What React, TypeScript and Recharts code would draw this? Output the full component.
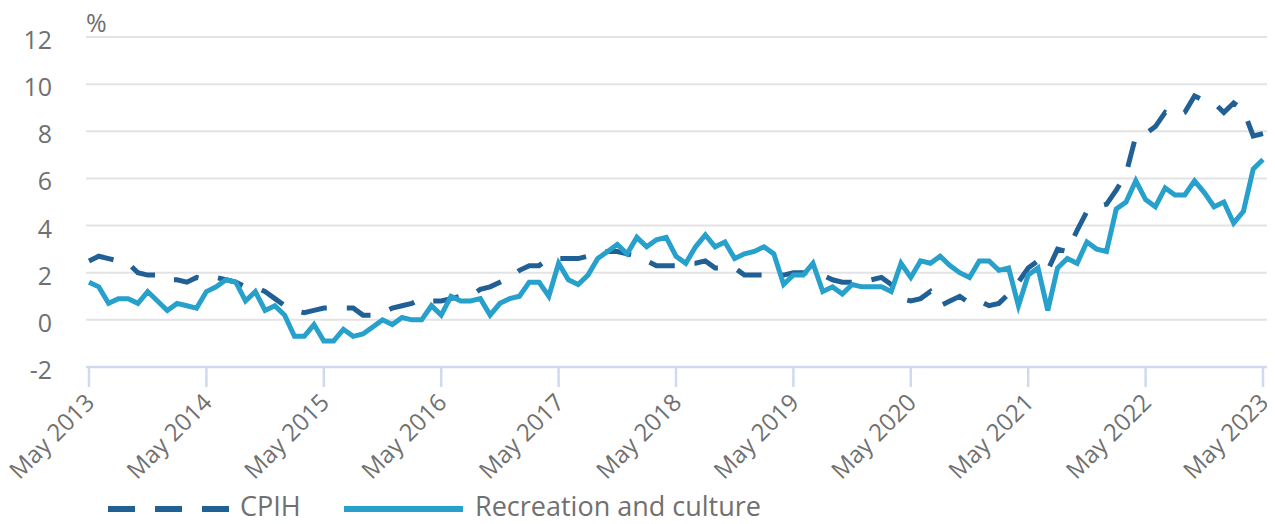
import {
  LineChart,
  Line,
  XAxis,
  YAxis,
  CartesianGrid,
} from "recharts";

const FONT = "'Open Sans', 'Noto Sans', sans-serif";
const TEXT = "#707070";
const CPIH_COLOR = "#206095";
const REC_COLOR = "#27a0cc";
const AXIS_COLOR = "#cfdaee";

// monthly, May 2013 .. May 2023 (index 0..120)
const TICK_LABELS = [
  "May 2013",
  "May 2014",
  "May 2015",
  "May 2016",
  "May 2017",
  "May 2018",
  "May 2019",
  "May 2020",
  "May 2021",
  "May 2022",
  "May 2023",
];

const CPIH = [
  2.5, 2.7, 2.6, 2.5, 2.4, 2.0, 1.9, 1.9, 1.7, 1.7, 1.6, 1.8,
  1.7, 1.8, 1.7, 1.6, 1.4, 1.4, 1.2, 0.9, 0.6, 0.4, 0.3, 0.4,
  0.5, 0.5, 0.5, 0.5, 0.2, 0.2, 0.3, 0.5, 0.6, 0.7, 0.9, 0.8,
  0.8, 0.9, 1.0, 1.0, 1.3, 1.4, 1.6, 1.8, 2.1, 2.3, 2.3, 2.6,
  2.6, 2.6, 2.6, 2.7, 2.8, 2.9, 2.9, 2.8, 2.7, 2.5, 2.3, 2.3,
  2.3, 2.4, 2.4, 2.5, 2.2, 2.2, 2.2, 1.9, 1.9, 1.9, 1.9, 1.9,
  2.0, 2.0, 2.0, 1.9, 1.7, 1.6, 1.6, 1.6, 1.7, 1.8, 1.5, 0.9,
  0.8, 0.9, 1.2, 0.6, 0.8, 1.0, 0.7, 0.8, 0.6, 0.7, 1.1, 1.6,
  2.2, 2.5, 2.1, 3.0, 2.9, 3.8, 4.6, 4.8, 4.9, 5.5, 6.2, 7.8,
  7.9, 8.2, 8.8, 8.6, 8.8, 9.5, 9.3, 9.2, 8.8, 9.2, 8.9, 7.8,
  7.9,
];

const RECREATION = [
  1.6, 1.4, 0.7, 0.9, 0.9, 0.7, 1.2, 0.8, 0.4, 0.7, 0.6, 0.5,
  1.2, 1.4, 1.7, 1.6, 0.8, 1.2, 0.4, 0.6, 0.2, -0.7, -0.7, -0.2,
  -0.9, -0.9, -0.4, -0.7, -0.6, -0.3, 0.0, -0.2, 0.1, 0.0, 0.0, 0.6,
  0.2, 1.0, 0.8, 0.8, 0.9, 0.2, 0.7, 0.9, 1.0, 1.6, 1.6, 1.0,
  2.4, 1.7, 1.5, 1.9, 2.6, 2.9, 3.2, 2.8, 3.5, 3.1, 3.4, 3.5,
  2.7, 2.4, 3.1, 3.6, 3.1, 3.3, 2.6, 2.8, 2.9, 3.1, 2.8, 1.5,
  1.9, 1.9, 2.4, 1.2, 1.4, 1.1, 1.5, 1.4, 1.4, 1.4, 1.2, 2.4,
  1.8, 2.5, 2.4, 2.7, 2.3, 2.0, 1.8, 2.5, 2.5, 2.1, 2.2, 0.6,
  1.9, 2.2, 0.4, 2.2, 2.6, 2.4, 3.3, 3.0, 2.9, 4.7, 5.0, 5.9,
  5.1, 4.8, 5.6, 5.3, 5.3, 5.9, 5.4, 4.8, 5.0, 4.1, 4.6, 6.4,
  6.8,
];

const Y_TICKS = [-2, 0, 2, 4, 6, 8, 10, 12];
const X_TICKS = TICK_LABELS.map((_, k) => k * 12);

const data = CPIH.map((v, i) => ({ i, cpih: v, rec: RECREATION[i] }));

function XTick({ x, y, payload }: any) {
  return (
    <g transform={`translate(${x + 7},${y + 17})`}>
      <text
        textAnchor="end"
        transform="rotate(-45)"
        fill={TEXT}
        fontSize={24}
        fontFamily={FONT}
      >
        {TICK_LABELS[Math.round(payload.value / 12)]}
      </text>
    </g>
  );
}

function YTick({ x, y, payload }: any) {
  return (
    <text
      x={x}
      y={y}
      dy={12}
      textAnchor="end"
      fill={TEXT}
      fontSize={25}
      fontFamily={FONT}
    >
      {payload.value}
    </text>
  );
}

function LegendRow() {
  return (
    <svg
      width={1275}
      height={524}
      style={{ position: "absolute", left: 0, top: 0, pointerEvents: "none" }}
    >
      <line
        x1={108}
        x2={229}
        y1={509}
        y2={509}
        stroke={CPIH_COLOR}
        strokeWidth={6}
        strokeDasharray="27 20"
      />
      <text x={240} y={516} fill={TEXT} fontSize={27} fontFamily={FONT}>
        CPIH
      </text>
      <line
        x1={344}
        x2={463}
        y1={509}
        y2={509}
        stroke={REC_COLOR}
        strokeWidth={6}
      />
      <text x={475} y={516} fill={TEXT} fontSize={27} fontFamily={FONT}>
        Recreation and culture
      </text>
      <text x={86} y={32} fill={TEXT} fontSize={25} fontFamily={FONT}>
        %
      </text>
    </svg>
  );
}

export default function App() {
  return (
    <div
      style={{
        position: "relative",
        width: 1275,
        height: 524,
        margin: -8,
        background: "#fff",
        fontFamily: FONT,
      }}
    >
      <LineChart
        width={1275}
        height={524}
        data={data}
        margin={{ top: 37, right: 7, bottom: 77, left: 0 }}
      >
        <CartesianGrid
          vertical={false}
          stroke="#e3e3e3"
          strokeWidth={2}
        />
        <XAxis
          dataKey="i"
          type="number"
          domain={[0, 120]}
          ticks={X_TICKS}
          padding={{ left: 3, right: 5 }}
          height={80}
          interval={0}
          tickSize={20}
          tickMargin={0}
          axisLine={{ stroke: AXIS_COLOR, strokeWidth: 2.5 }}
          tickLine={{ stroke: AXIS_COLOR, strokeWidth: 2.5 }}
          tick={<XTick />}
        />
        <YAxis
          domain={[-2, 12]}
          ticks={Y_TICKS}
          width={86}
          interval={0}
          axisLine={false}
          tickLine={false}
          tickSize={0}
          tickMargin={34}
          tick={<YTick />}
        />
        <Line
          type="linear"
          dataKey="cpih"
          stroke={CPIH_COLOR}
          strokeWidth={5}
          strokeDasharray="26 20"
          dot={false}
          isAnimationActive={false}
        />
        <Line
          type="linear"
          dataKey="rec"
          stroke={REC_COLOR}
          strokeWidth={5}
          dot={false}
          isAnimationActive={false}
        />
      </LineChart>
      <LegendRow />
    </div>
  );
}
